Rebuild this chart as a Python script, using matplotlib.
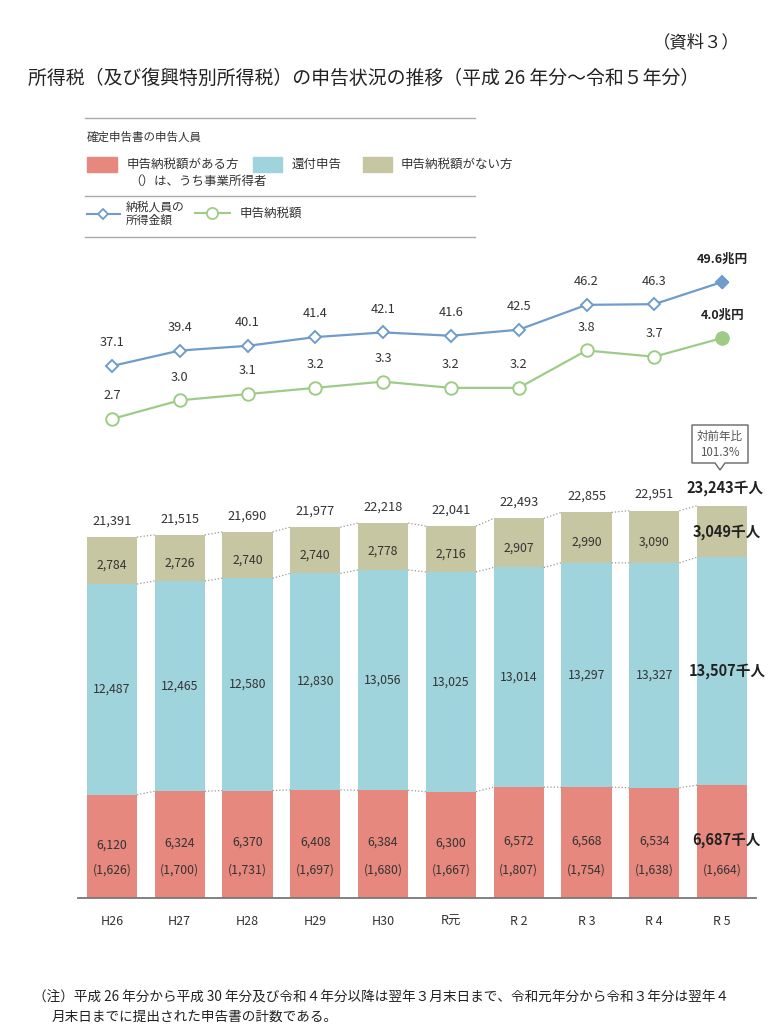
import matplotlib
matplotlib.use("Agg")
import matplotlib.pyplot as plt
from matplotlib.patches import Rectangle, Polygon
from matplotlib.lines import Line2D

plt.rcParams['font.family'] = ['Noto Sans CJK JP', 'DejaVu Sans']

# ---- data ----
years = ['H26', 'H27', 'H28', 'H29', 'H30', 'R元', 'R 2', 'R 3', 'R 4', 'R 5']
with_tax = [6120, 6324, 6370, 6408, 6384, 6300, 6572, 6568, 6534, 6687]
business = [1626, 1700, 1731, 1697, 1680, 1667, 1807, 1754, 1638, 1664]
refund = [12487, 12465, 12580, 12830, 13056, 13025, 13014, 13297, 13327, 13507]
no_tax = [2784, 2726, 2740, 2740, 2778, 2716, 2907, 2990, 3090, 3049]
totals = [21391, 21515, 21690, 21977, 22218, 22041, 22493, 22855, 22951, 23243]
income = [37.1, 39.4, 40.1, 41.4, 42.1, 41.6, 42.5, 46.2, 46.3, 49.6]
tax_amount = [2.7, 3.0, 3.1, 3.2, 3.3, 3.2, 3.2, 3.8, 3.7, 4.0]
yoy = '101.3%'

W, H = 768, 1024
fig = plt.figure(figsize=(7.68, 10.24), dpi=100)

def fx(x):
    return x / W

def fy(y):
    return 1 - y / H

C_RED = '#E6887E'
C_BLUE = '#A0D4DC'
C_OLIVE = '#C6C6A2'
C_LBLUE = '#6F9CCB'
C_LGREEN = '#9ECC88'
TXT = '#333333'

# ---- titles ----
fig.text(fx(740), fy(42), '（資料３）', ha='right', va='center', fontsize=12.5, color='#222222')
fig.text(fx(28), fy(78), '所得税（及び復興特別所得税）の申告状況の推移（平成 26 年分～令和５年分）',
         ha='left', va='center', fontsize=13.6, color='#222222')

# ---- legend ----
for yy in (118, 196, 237):
    fig.add_artist(Line2D([fx(85), fx(475)], [fy(yy), fy(yy)], color='#AAAAAA', lw=1.0))
fig.text(fx(87), fy(137), '確定申告書の申告人員', fontsize=8.3, color=TXT, va='center')
for x0, x1, c in ((87, 117, C_RED), (253, 282, C_BLUE), (363, 392, C_OLIVE)):
    fig.add_artist(Rectangle((fx(x0), fy(172)), fx(x1 - x0), 15 / H, color=c, transform=fig.transFigure))
fig.text(fx(127), fy(164), '申告納税額がある方', fontsize=9, color=TXT, va='center')
fig.text(fx(129), fy(181), '（）は、うち事業所得者', fontsize=9, color=TXT, va='center')
fig.text(fx(292), fy(164), '還付申告', fontsize=9, color=TXT, va='center')
fig.text(fx(401), fy(164), '申告納税額がない方', fontsize=9, color=TXT, va='center')
fig.add_artist(Line2D([fx(87), fx(120)], [fy(214), fy(214)], color=C_LBLUE, lw=1.5))
fig.add_artist(Line2D([fx(103)], [fy(214)], marker='D', ms=5, mfc='white', mec=C_LBLUE, mew=1.3, color=C_LBLUE))
fig.text(fx(126), fy(214), '納税人員の\n所得金額', fontsize=8.5, color=TXT, va='center', linespacing=1.0)
fig.add_artist(Line2D([fx(195), fx(230)], [fy(213), fy(213)], color=C_LGREEN, lw=1.5))
fig.add_artist(Line2D([fx(212)], [fy(213)], marker='o', ms=8, mfc='white', mec=C_LGREEN, mew=1.3, color=C_LGREEN))
fig.text(fx(240), fy(213), '申告納税額', fontsize=9, color=TXT, va='center')

# ---- axes geometry ----
left_px, right_px = 78, 756
ax_left = fx(left_px)
ax_w = (right_px - left_px) / W

# bar axes
bar_top_px, base_px = 493, 898
axb = fig.add_axes([ax_left, fy(base_px), ax_w, (base_px - bar_top_px) / H])
x = list(range(len(years)))
bw = 0.74
axb.bar(x, with_tax, width=bw, color=C_RED)
axb.bar(x, refund, width=bw, bottom=with_tax, color=C_BLUE)
bottom3 = [a + b for a, b in zip(with_tax, refund)]
axb.bar(x, no_tax, width=bw, bottom=bottom3, color=C_OLIVE)
axb.set_xlim(-0.5, len(years) - 0.5)
axb.set_ylim(0, 24000)
axb.set_yticks([])
for s in ('left', 'right', 'top'):
    axb.spines[s].set_visible(False)
axb.spines['bottom'].set_color('#777777')
axb.spines['bottom'].set_linewidth(1.3)
axb.set_xticks(x)
axb.set_xticklabels(years, fontsize=9, color=TXT)
axb.tick_params(axis='x', length=0, pad=12)

# dotted connectors
for lv in (with_tax, bottom3, totals):
    for i in range(len(years) - 1):
        axb.plot([i + bw / 2, i + 1 - bw / 2], [lv[i], lv[i + 1]], ls=':', color='#999999', lw=0.9)

last = len(years) - 1
for i in x:
    if i == last:
        kw = dict(ha='center', va='center', fontsize=10.5, fontweight='bold', color='#222222')
        axb.text(i + 0.07, with_tax[i] * 0.5 + 100, f'{with_tax[i]:,}千人', **kw)
        axb.text(i + 0.07, with_tax[i] + refund[i] / 2, f'{refund[i]:,}千人', **kw)
        axb.text(i + 0.07, bottom3[i] + no_tax[i] / 2, f'{no_tax[i]:,}千人', **kw)
        axb.annotate(f'{totals[i]:,}千人', (i, totals[i]), xytext=(2, 7), textcoords='offset points',
                     ha='center', va='bottom', fontsize=10.5, fontweight='bold', color='#222222')
    else:
        kw = dict(ha='center', va='center', fontsize=8.8, color=TXT)
        axb.text(i, with_tax[i] * 0.5 + 100, f'{with_tax[i]:,}', **kw)
        axb.text(i, with_tax[i] + refund[i] / 2, f'{refund[i]:,}', **kw)
        axb.text(i, bottom3[i] + no_tax[i] / 2 - 300, f'{no_tax[i]:,}', **kw)
        axb.annotate(f'{totals[i]:,}', (i, totals[i]), xytext=(0, 7), textcoords='offset points',
                     ha='center', va='bottom', fontsize=9.2, color=TXT)
    axb.text(i, 1660, f'({business[i]:,})', ha='center', va='center', fontsize=8.8, color=TXT)

# callout box
bx0, bx1, by0, by1 = 692, 748, 425, 463
fig.add_artist(Polygon([(fx(bx0), fy(by0)), (fx(bx1), fy(by0)), (fx(bx1), fy(by1)), (fx(725), fy(by1)),
                        (fx(720), fy(470)), (fx(715), fy(by1)), (fx(bx0), fy(by1))],
                       closed=True, fc='white', ec='#666666', lw=1.0, transform=fig.transFigure))
fig.text(fx(720), fy(436), '対前年比', ha='center', va='center', fontsize=8.3, color='#555555')
fig.text(fx(720), fy(452), yoy, ha='center', va='center', fontsize=8.3, color='#555555')

# line axes
l_top, l_bot = 250, 440
axl = fig.add_axes([ax_left, fy(l_bot), ax_w, (l_bot - l_top) / H])
axl.set_xlim(-0.5, len(years) - 0.5)
axl.set_ylim(26.09, 54.36)
axl.axis('off')
axg = axl.twinx()
axg.set_ylim(2.363, 5.413)
axg.axis('off')
axl.plot(x, income, color=C_LBLUE, lw=1.6, marker='D', ms=6, mfc='white', mec=C_LBLUE, mew=1.4)
axl.plot([last], [income[last]], marker='D', ms=6, color=C_LBLUE, ls='none')
axg.plot(x, tax_amount, color=C_LGREEN, lw=1.6, marker='o', ms=9, mfc='white', mec=C_LGREEN, mew=1.4)
axg.plot([last], [tax_amount[last]], marker='o', ms=9, color=C_LGREEN, ls='none')
for i in x:
    if i == last:
        lk = dict(ha='center', va='bottom', fontsize=9, fontweight='bold', color='#222222')
        axl.annotate(f'{income[i]}兆円', (i, income[i]), xytext=(0, 12), textcoords='offset points', **lk)
        axg.annotate(f'{tax_amount[i]}兆円', (i, tax_amount[i]), xytext=(0, 12), textcoords='offset points', **lk)
    else:
        lk = dict(ha='center', va='bottom', fontsize=9.2, color=TXT)
        axl.annotate(f'{income[i]}', (i, income[i]), xytext=(0, 12), textcoords='offset points', **lk)
        axg.annotate(f'{tax_amount[i]}', (i, tax_amount[i]), xytext=(0, 12), textcoords='offset points', **lk)

# footnote
fig.text(fx(33), fy(997), '（注）平成 26 年分から平成 30 年分及び令和４年分以降は翌年３月末日まで、令和元年分から令和３年分は翌年４',
         ha='left', va='center', fontsize=9.8, color='#222222')
fig.text(fx(52), fy(1017), '月末日までに提出された申告書の計数である。',
         ha='left', va='center', fontsize=9.8, color='#222222')

fig.savefig('out.png', dpi=100)
